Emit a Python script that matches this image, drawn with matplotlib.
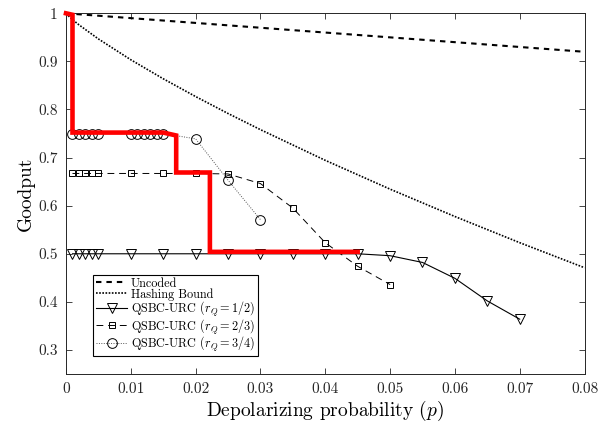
import matplotlib
matplotlib.use("Agg")
import matplotlib.pyplot as plt
from matplotlib.ticker import FuncFormatter

plt.rcParams['font.family'] = ['cmr10', 'DejaVu Serif']
plt.rcParams['mathtext.fontset'] = 'cm'
plt.rcParams['axes.formatter.use_mathtext'] = True

# ---- data ----
p_uncoded = [0.0, 0.08]
g_uncoded = [1.0, 0.92]

p_hash = [0.0, 0.0005, 0.001, 0.002, 0.005, 0.01, 0.015, 0.02, 0.025, 0.03,
          0.04, 0.05, 0.06, 0.07, 0.08]
g_hash = [1.0, 0.993, 0.987, 0.976, 0.9467, 0.9034, 0.8639, 0.8269, 0.7917,
          0.7581, 0.6943, 0.6344, 0.5775, 0.5231, 0.4710]

p_half = [0.001, 0.002, 0.003, 0.004, 0.005, 0.01, 0.015, 0.02, 0.025, 0.03,
          0.035, 0.04, 0.045, 0.05, 0.055, 0.06, 0.065, 0.07]
g_half = [0.5, 0.5, 0.5, 0.5, 0.5, 0.5, 0.5, 0.5, 0.5, 0.5,
          0.5, 0.5, 0.5, 0.496, 0.482, 0.449, 0.402, 0.364]

p_23 = [0.001, 0.002, 0.003, 0.004, 0.005, 0.01, 0.015, 0.02, 0.025, 0.03,
        0.035, 0.04, 0.045, 0.05]
g_23 = [0.667, 0.667, 0.667, 0.667, 0.667, 0.667, 0.667, 0.667, 0.666, 0.646,
        0.595, 0.523, 0.474, 0.436]

p_34 = [0.001, 0.002, 0.003, 0.004, 0.005, 0.010, 0.011, 0.012, 0.013, 0.014,
        0.015, 0.02, 0.025, 0.03]
g_34 = [0.75, 0.75, 0.75, 0.75, 0.75, 0.75, 0.75, 0.75, 0.75, 0.75,
        0.75, 0.739, 0.653, 0.571]

p_best = [0.0, 0.001, 0.001, 0.015, 0.017, 0.017, 0.0222, 0.0222, 0.045]
g_best = [1.0, 0.997, 0.752, 0.752, 0.746, 0.669, 0.669, 0.504, 0.504]

labels = ['Uncoded', 'Hashing Bound',
          r'QSBC-URC ($r_Q=1/2$)', r'QSBC-URC ($r_Q=2/3$)', r'QSBC-URC ($r_Q=3/4$)']
x_ticks = [0, 0.01, 0.02, 0.03, 0.04, 0.05, 0.06, 0.07, 0.08]
y_ticks = [0.3, 0.4, 0.5, 0.6, 0.7, 0.8, 0.9, 1.0]

# ---- figure ----
fig = plt.figure(figsize=(5.99, 4.24), dpi=100)
ax = fig.add_axes([0.1102, 0.1179, 0.8656, 0.8507])

ax.plot(p_uncoded, g_uncoded, color='black', lw=1.5, linestyle=(0, (2.6, 2.4)), label=labels[0])
ax.plot(p_hash, g_hash, color='black', lw=1.2, linestyle=(0, (1, 0.9)), label=labels[1])
ax.plot(p_half, g_half, color='black', lw=0.8, marker='v', ms=7, mfc='none',
        mec='black', mew=0.7, label=labels[2])
ax.plot(p_23, g_23, color='black', lw=0.7, linestyle=(0, (7, 5)), marker='s', ms=5,
        mfc='none', mec='black', mew=0.7, label=labels[3])
ax.plot(p_34, g_34, color='#555555', lw=0.7, linestyle=(0, (1, 1.5)), marker='o', ms=7,
        mfc='none', mec='black', mew=0.7, label=labels[4])
ax.plot(p_best, g_best, color='#ff0000', lw=3.3, solid_joinstyle='miter',
        zorder=5, clip_on=False)

ax.set_xlim(0, 0.08)
ax.set_ylim(0.25, 1.0)
ax.set_xticks(x_ticks)
ax.set_yticks(y_ticks)
fmt = FuncFormatter(lambda v, pos: '%g' % round(v, 3))
ax.xaxis.set_major_formatter(fmt)
ax.yaxis.set_major_formatter(fmt)
ax.tick_params(direction='in', length=4, width=0.6, top=True, right=True,
               labelsize=11, colors='#262626', pad=6)
for s in ax.spines.values():
    s.set_color('#262626')
    s.set_linewidth(0.7)

ax.set_xlabel(r'Depolarizing probability $(p)$', fontsize=14, labelpad=2)
ax.set_ylabel('Goodput', fontsize=14, labelpad=2)

leg = ax.legend(loc='lower left', bbox_to_anchor=(0.052, 0.05), fontsize=8.8,
                frameon=True, fancybox=False, framealpha=1, edgecolor='black',
                handlelength=2.6, handletextpad=0.3, labelspacing=-0.12,
                borderpad=0.22, borderaxespad=0)
leg.get_frame().set_linewidth(0.8)

fig.savefig('out.png', dpi=100)
